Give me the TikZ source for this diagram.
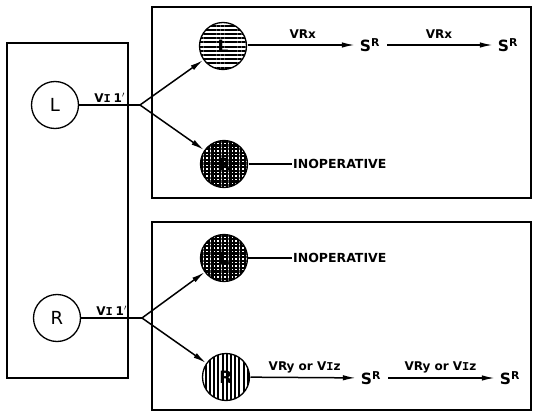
\documentclass[tikz,border=0pt]{standalone}
\usepackage{fontspec}
\setmainfont{DejaVu Sans}
\newfontfamily\serifmono{Liberation Mono}
\newcommand{\Iser}{{\serifmono\bfseries I}}
\usepackage{tikz}
\usetikzlibrary{arrows.meta,patterns.meta}

\begin{document}
\begin{tikzpicture}[
  x=1pt, y=-1pt,
  frame/.style={line width=1.9pt},
  cell/.style={
    draw,
    circle,
    line width=1.3pt,
    minimum size=47pt,
    inner sep=0pt,
    font=\fontsize{18}{18}\selectfont
  },
  striped/.style={cell, font=\fontsize{17}{17}\selectfont\bfseries,
    pattern={Lines[angle=0,distance=4.2pt,line width=2pt]}},
  barred/.style={cell, font=\fontsize{17}{17}\selectfont\bfseries,
    pattern={Lines[angle=90,distance=4.2pt,line width=2pt]}},
  dotted/.style={cell, font=\fontsize{17}{17}\selectfont\bfseries,
    pattern={Hatch[angle=0,distance=3.6pt,line width=2.2pt]}},
  state/.style={font=\fontsize{15.5}{15.5}\selectfont\bfseries, inner sep=2pt},
  tag/.style={font=\fontsize{12}{12}\selectfont\bfseries, inner sep=2pt},
  word/.style={font=\fontsize{12.5}{12.5}\selectfont\bfseries, inner sep=1pt},
  line/.style={line width=1.5pt},
  arrow/.style={-{Latex[length=13pt,width=5.5pt]}, line width=1.5pt}
]
\useasboundingbox (0,0) rectangle (536,412);

% frames
\draw[frame] (7,43) rectangle (128,378);
\draw[frame] (152,7) rectangle (531,198);
\draw[frame] (152,222) rectangle (531,410);

% left side
\node[cell] (cl) at (55,105) {L};
\node[cell] (cr) at (57,318) {R};
\coordinate (jl) at (140,105);
\coordinate (jr) at (142,318);

% upper frame
\node[striped] (hl) at (223,46) {L};
\node[dotted] (dr1) at (224,164) {R};
\node[state] (s1) at (370,45) {S\textsuperscript{R}};
\node[state] (s2) at (508,45) {S\textsuperscript{R}};
\node[word, anchor=west] (inop1) at (292,164) {INOPERATIVE};

% lower frame
\node[dotted] (dl2) at (224,258) {L};
\node[barred] (vr) at (226,377) {R};
\node[state] (s3) at (371,378) {S\textsuperscript{R}};
\node[state] (s4) at (510,378) {S\textsuperscript{R}};
\node[word, anchor=west] (inop2) at (292,258) {INOPERATIVE};

\draw[line] (cl) -- node[tag, above] {V\Iser\hspace{3pt}1$'$} (jl);
\draw[line] (cr) -- node[tag, above] {V\Iser\hspace{3pt}1$'$} (jr);
\draw[arrow] (jl) -- (hl);
\draw[arrow] (jl) -- (dr1);
\draw[arrow] (jr) -- (dl2);
\draw[arrow] (jr) -- (vr);

\draw[arrow, shorten >=3pt] (hl.east |- s1) -- node[tag, above=4pt] {VRx} (s1);
\draw[arrow, shorten >=3pt, shorten <=5pt] (s1) -- node[tag, above=4pt] {VRx} (s2);
\draw[line] (dr1) -- (inop1);

\draw[line] (dl2) -- (inop2);
\draw[arrow, shorten >=3pt] (vr) -- node[tag, above=2pt] {VRy or V\Iser z} (s3);
\draw[arrow, shorten >=3pt, shorten <=5pt] (s3) -- node[tag, above=2pt] {VRy or V\Iser z} (s4);
\end{tikzpicture}
\end{document}
